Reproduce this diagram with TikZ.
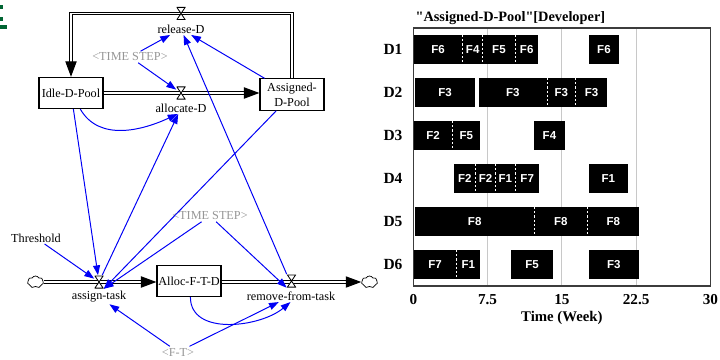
\documentclass[tikz,border=0pt]{standalone}
\usepackage{fontspec}
\setmainfont{Liberation Serif}
\setsansfont{Liberation Sans}
\newfontfamily\plainserif{Liberation Serif}[Ligatures=TeXOff]
\usetikzlibrary{arrows.meta,shapes.symbols}

\definecolor{linkblue}{RGB}{0,0,245}
\definecolor{tsgray}{RGB}{150,150,150}
\definecolor{egreen}{RGB}{0,100,50}
\definecolor{framegray}{RGB}{60,60,60}
\definecolor{gridgray}{RGB}{200,200,200}

\newcommand{\sdfont}{\fontsize{8.7pt}{10.5pt}\selectfont}

\begin{document}
\begin{tikzpicture}[x=0.025cm, y=-0.025cm,
  stock/.style={draw, line width=0.8pt, minimum width=1.6cm, minimum height=0.78cm, inner sep=0.5pt, align=center, font=\sdfont},
  valve/.style={minimum width=0.225cm, minimum height=0.325cm, inner sep=0pt,
    path picture={\filldraw[fill=white, line width=0.6pt]
      ([shift={(0.3pt,-0.3pt)}]path picture bounding box.north west) --
      ([shift={(-0.3pt,-0.3pt)}]path picture bounding box.north east) --
      ([shift={(0.3pt,0.3pt)}]path picture bounding box.south west) --
      ([shift={(-0.3pt,0.3pt)}]path picture bounding box.south east) -- cycle;}},
  varlabel/.style={font=\sdfont, inner sep=1pt},
  shadowvar/.style={font=\sdfont, text=tsgray, inner sep=1pt},
  pipe/.style={draw, line width=0.75pt, double=white, double distance=1pt},
  pipetip/.style={-{Triangle[length=11pt,width=8pt]}},
  link/.style={draw=linkblue, line width=0.7pt, -{Triangle[length=7pt,width=5pt]}},
  sink/.style={cloud, cloud puffs=7, cloud puff arc=120, aspect=1.5, draw, line width=0.5pt, fill=white, minimum width=0.4cm, minimum height=0.3cm, inner sep=0pt},
  barlabel/.style={font=\sffamily\bfseries\fontsize{8.2pt}{9pt}\selectfont, text=white, inner sep=0pt},
  rowlabel/.style={font=\bfseries\fontsize{11pt}{12pt}\selectfont, inner sep=0pt},
  ticklabel/.style={font=\bfseries\fontsize{10.8pt}{12pt}\selectfont, inner sep=0pt},
  axislabel/.style={font=\bfseries\fontsize{10.5pt}{12pt}\selectfont, inner sep=0pt},
  charttitle/.style={font=\plainserif\bfseries\fontsize{10.2pt}{12pt}\selectfont, inner sep=0pt}]
\useasboundingbox (0,0) rectangle (720,360);

% Resto de letra verde (recortada)
\fill[egreen] (0,5) rectangle (3.4,9);
\fill[egreen] (0,17.3) rectangle (3.4,21.5);
\fill[egreen] (0,25) rectangle (6.8,28.7);

% Niveles y nubes
\node[stock] (idle) at (71,93) {Idle-D-Pool};
\node[stock] (assigned) at (292,94.5) {Assigned-\\D-Pool};
\node[stock] (alloc) at (189,281) {Alloc-F-T-D};
\node[sink] (srcL) at (35.5,282) {};
\node[sink] (sinkR) at (369.5,282) {};
\coordinate (relpos) at (181,13.5);

% Flujos (tuberias dobles)
\draw[pipe, pipetip] (assigned.north) |- (relpos) -| (idle.north);
\draw[pipe, pipetip] (idle.east) -- (idle.east -| assigned.west);
\draw[pipe, pipetip] (srcL.east) -- (srcL.east -| alloc.west);
\draw[pipe, pipetip] (sinkR.west -| alloc.east) -- (sinkR.west);

% Valvulas
\node[valve] (relv) at (relpos) {};
\node[valve] (allv) at (181,93) {};
\node[valve] (asgv) at (99,282) {};
\node[valve] (remv) at (291.5,281) {};

% Nombres de variables
\node[varlabel] (relL) at (181,29) {release-D};
\node[varlabel] (allL) at (181,108) {allocate-D};
\node[varlabel] (asgL) at (99,297) {assign-task};
\node[varlabel] (remL) at (291,296) {remove-from-task};
\node[varlabel] (thr) at (36,238) {Threshold};
\node[shadowvar] (ts1) at (130,57) {<TIME STEP>};
\node[shadowvar] (ts2) at (210,216) {<TIME STEP>};
\node[shadowvar] (ft) at (178,352) {<F-T>};

% Enlaces de informacion
\draw[link] (ts1) -- (relL);
\draw[link] (ts1) -- (allv);
\draw[link] (assigned) -- (relL);
\draw[link] (idle.-60) to[out=-60, in=205] (allL.-120);
\draw[link] (idle) -- (asgv);
\draw[link] (asgv) -- (allL);
\draw[link] (assigned) -- (asgv.south east);
\draw[link] (remv.north west) -- (relL);
\draw[link] (thr) -- (asgv);
\draw[link] (ts2) -- (asgv.south east);
\draw[link] (ts2) -- (remv.south west);
\draw[link] (ft) -- (asgL);
\draw[link] (ft) -- (remL);
\draw[link] (alloc.-85) to[out=-90, in=-140] (remL.-95);

% Diagrama de barras (semanas)
\begin{scope}[shift={(413.3,0)}, x=0.2475cm]
  % rejilla
  \foreach \g in {7.5,15,22.5}
    \draw[gridgray, line width=0.6pt] (\g,28) -- (\g,286);
  % barras por desarrollador
  \foreach \r/\a/\b/\lab [count=\i] in {
      1/0/5.0/F6, 1/5.0/7.0/F4, 1/7.0/10.3/F5, 1/10.3/12.6/F6, 1/17.7/20.8/F6,
      2/0.2/6.2/F3, 2/6.6/13.5/F3, 2/13.5/16.4/F3, 2/16.4/19.6/F3,
      3/0/4.0/F2, 3/4.0/6.7/F5, 3/12.2/15.3/F4,
      4/4.1/6.3/F2, 4/6.3/8.3/F2, 4/8.3/10.3/F1, 4/10.3/12.7/F7, 4/17.7/21.7/F1,
      5/0.2/12.2/F8, 5/12.2/17.6/F8, 5/17.6/22.8/F8,
      6/0/4.4/F7, 6/4.4/6.7/F1, 6/9.9/14.1/F5, 6/17.7/22.8/F3} {
    \pgfmathsetmacro\yc{49.5+43*(\r-1)}
    \fill[black] (\a,\yc-14.5) rectangle (\b,\yc+14.5);
    \node[barlabel] (seg\i) at ({(\a+\b)/2},\yc) {\lab};
  }
  % separadores punteados
  \foreach \r/\d in {1/5.0, 1/7.0, 1/10.3, 2/13.5, 2/16.4, 3/4.0,
      4/6.3, 4/8.3, 4/10.3, 5/12.2, 5/17.6, 6/4.4} {
    \pgfmathsetmacro\yc{49.5+43*(\r-1)}
    \draw[white, dash pattern=on 1.5pt off 1.5pt, line width=0.6pt] (\d,\yc-14.5) -- (\d,\yc+14.5);
  }
  % marco y etiquetas
  \draw[framegray, line width=0.8pt] (0,28) rectangle (30,286);
  \foreach \r in {1,...,6}
    \node[rowlabel] (row\r) at (-2.05,{49.5+43*(\r-1)}) {D\r};
  \foreach \t [count=\k] in {0,7.5,15,22.5,30}
    \node[ticklabel] (tick\k) at (\t,300) {\t};
  \node[axislabel] (xlab) at (15,318) {Time (Week)};
  \node[charttitle] (title) at (9.8,18) {"Assigned-D-Pool"[Developer]};
\end{scope}

\end{tikzpicture}
\end{document}
